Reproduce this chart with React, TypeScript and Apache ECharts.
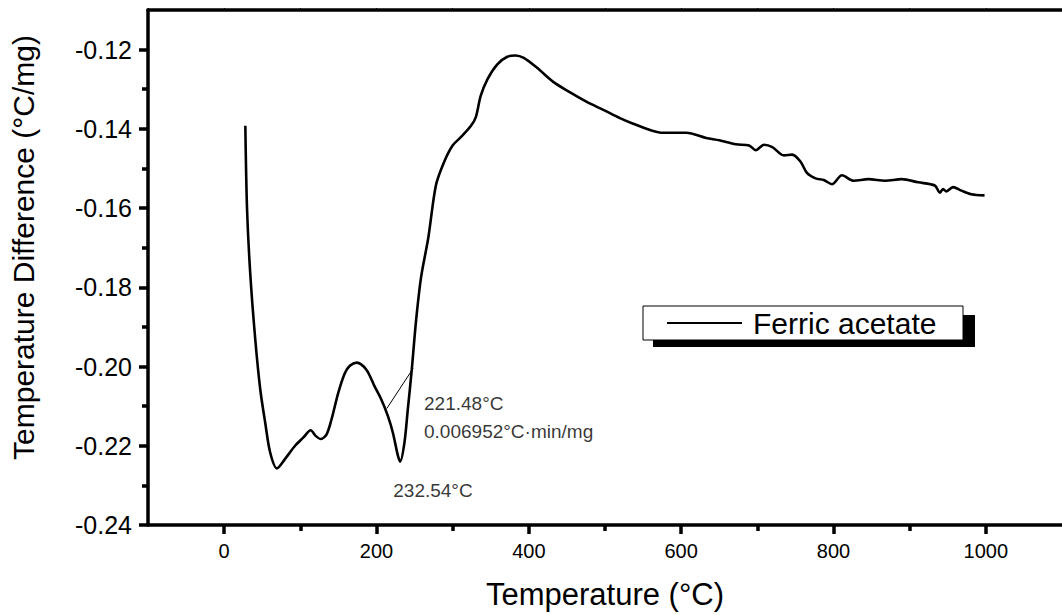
import React, { useEffect, useRef } from "react";
import * as echarts from "echarts";

// Temperature (°C)
const temps: number[] = [
  27.8, 30.0, 34.3, 40.9, 47.4, 53.9, 60.4, 69.2, 80.0, 93.1,
  104.0, 113.6, 120.1, 127.0, 134.5, 141.0, 149.7, 158.4, 165.0, 174.0,
  186.7, 197.5, 206.3, 215.0, 221.5, 228.1, 231.1, 236.7, 241.1, 246.3,
  252.0, 258.5, 268.0, 278.1, 288.9, 299.9, 310.7, 323.8, 330.3, 336.8,
  345.6, 358.6, 371.7, 382.5, 393.3, 410.8, 432.5, 454.3, 476.1, 497.8,
  519.6, 537.0, 561.0, 576.1, 606.7, 632.8, 650.1, 671.9, 689.3, 698.0,
  708.9, 719.7, 735.0, 745.8, 756.8, 765.4, 776.4, 787.2, 798.0, 811.1,
  826.4, 846.0, 867.8, 889.4, 911.2, 933.0, 939.6, 943.9, 948.2, 956.9,
  967.8, 980.8, 998.3,
];
// Temperature difference (°C/mg)
const diffs: number[] = [
  -0.1392, -0.160, -0.1767, -0.1933, -0.2058, -0.2142, -0.2217, -0.2257, -0.2233, -0.220,
  -0.2179, -0.2161, -0.2175, -0.2183, -0.2171, -0.2133, -0.2067, -0.2017, -0.1998, -0.1990,
  -0.2008, -0.205, -0.2083, -0.2125, -0.2167, -0.2225, -0.224, -0.2192, -0.2108, -0.2008,
  -0.1883, -0.1775, -0.1675, -0.1542, -0.1483, -0.1442, -0.1421, -0.1393, -0.1371, -0.1317,
  -0.1275, -0.1237, -0.1218, -0.1215, -0.1221, -0.1246, -0.1282, -0.1308, -0.1332, -0.1352,
  -0.1373, -0.1387, -0.1404, -0.141, -0.141, -0.1423, -0.1429, -0.1439, -0.1442, -0.1454,
  -0.144, -0.1446, -0.1467, -0.1465, -0.1483, -0.1512, -0.1525, -0.1529, -0.154, -0.1517,
  -0.1531, -0.1527, -0.1531, -0.1527, -0.1535, -0.1543, -0.1561, -0.1552, -0.1558, -0.1547,
  -0.1556, -0.1565, -0.1568,
];

// Onset tangent line
const tangentT: number[] = [213.5, 248.0];
const tangentV: number[] = [-0.2106, -0.2005];

// Annotations
const annotTexts: string[] = ["221.48°C", "0.006952°C·min/mg", "232.54°C"];
const annotT: number[] = [262.4, 262.4, 222.0];
const annotV: number[] = [-0.2093, -0.2165, -0.2313];

const xMajorTicks: number[] = [0, 200, 400, 600, 800, 1000];
const xMinorTicks: number[] = [100, 300, 500, 700, 900];
const yMajorTicks: number[] = [-0.24, -0.22, -0.2, -0.18, -0.16, -0.14, -0.12];
const yMinorTicks: number[] = [-0.23, -0.21, -0.19, -0.17, -0.15, -0.13];

const seriesName = "Ferric acetate";
const FONT = "'Liberation Sans', Arial, Helvetica, sans-serif";

export default function App() {
  const ref = useRef<HTMLDivElement>(null);
  useEffect(() => {
    if (!ref.current) return;
    const chart = echarts.init(ref.current, undefined, { renderer: "svg" });
    const axisLine = { show: true, onZero: false, lineStyle: { color: "#000", width: 3.5 } };
    const noLine = { show: false, onZero: false };
    const common = { type: "value" as const, min: -100, max: 1100, splitLine: { show: false } };
    const yCommon = { type: "value" as const, min: -0.24, max: -0.11, splitLine: { show: false } };
    chart.setOption({
      animation: false,
      backgroundColor: "#fff",
      textStyle: { fontFamily: FONT, color: "#000" },
      grid: { left: 145, right: -3, top: 10, bottom: 85, containLabel: false },
      legend: {
        data: [{ name: seriesName, icon: "rect" }],
        left: 643,
        top: 306,
        orient: "horizontal",
        backgroundColor: "#fff",
        borderColor: "#000",
        borderWidth: 1,
        borderRadius: 0,
        padding: [2, 10, 2, 24],
        itemWidth: 75,
        itemHeight: 2,
        z: 10,
        selectedMode: false,
        itemStyle: { color: "#000", borderWidth: 0 },
        textStyle: {
          fontFamily: FONT,
          fontSize: 30,
          color: "#000",
          width: 200,
          lineHeight: 29,
          padding: [0, 0, 0, 6],
        },
      },
      graphic: [
        {
          type: "rect",
          z: 1,
          shape: { x: 653, y: 315, width: 322, height: 32 },
          style: { fill: "#000" },
        },
      ],
      xAxis: [
        {
          ...common,
          position: "bottom",
          name: "Temperature (°C)",
          nameLocation: "middle",
          nameGap: 54,
          nameTextStyle: { fontFamily: FONT, fontSize: 31, color: "#000" },
          axisLine,
          axisTick: {
            show: true,
            customValues: xMajorTicks,
            length: 9,
            lineStyle: { color: "#000", width: 3.5 },
          },
          axisLabel: {
            show: true,
            customValues: xMajorTicks,
            fontFamily: FONT,
            fontSize: 20,
            color: "#000",
            margin: 16,
            formatter: (v: number) => String(v),
          },
        },
        {
          ...common,
          position: "bottom",
          axisLine: noLine,
          axisTick: {
            show: true,
            customValues: xMinorTicks,
            length: 6,
            lineStyle: { color: "#000", width: 3.5 },
          },
          axisLabel: { show: false },
        },
        {
          ...common,
          position: "top",
          interval: 100,
          axisLine,
          axisTick: { show: true, length: 2, lineStyle: { color: "#000", width: 1 } },
          axisLabel: { show: false },
        },
      ],
      yAxis: [
        {
          ...yCommon,
          position: "left",
          name: "Temperature Difference (°C/mg)",
          nameLocation: "middle",
          nameGap: 110,
          nameTextStyle: { fontFamily: FONT, fontSize: 30, color: "#000", padding: [0, 0, 0, 40] },
          axisLine,
          axisTick: {
            show: true,
            customValues: yMajorTicks,
            length: 9,
            lineStyle: { color: "#000", width: 3.5 },
          },
          axisLabel: {
            show: true,
            customValues: yMajorTicks,
            fontFamily: FONT,
            fontSize: 25,
            color: "#000",
            margin: 16,
            formatter: (v: number) => v.toFixed(2),
          },
        },
        {
          ...yCommon,
          position: "left",
          axisLine: noLine,
          axisTick: {
            show: true,
            customValues: yMinorTicks,
            length: 6,
            lineStyle: { color: "#000", width: 3.5 },
          },
          axisLabel: { show: false },
        },
      ],
      series: [
        {
          name: seriesName,
          type: "line",
          xAxisIndex: 0,
          yAxisIndex: 0,
          data: temps.map((t, i) => [t, diffs[i]]),
          symbol: "none",
          smooth: 0.3,
          lineStyle: { color: "#000", width: 2.6 },
          itemStyle: { color: "#000" },
          z: 3,
        },
        {
          name: "tangent",
          type: "line",
          xAxisIndex: 0,
          yAxisIndex: 0,
          data: tangentT.map((t, i) => [t, tangentV[i]]),
          symbol: "none",
          silent: true,
          lineStyle: { color: "#000", width: 1 },
          z: 2,
        },
        {
          name: "annotations",
          type: "scatter",
          xAxisIndex: 0,
          yAxisIndex: 0,
          symbolSize: 0,
          silent: true,
          data: annotTexts.map((s, i) => ({ name: s, value: [annotT[i], annotV[i]] })),
          label: {
            show: true,
            position: "right",
            distance: 0,
            formatter: (p: any) => p.name,
            fontFamily: FONT,
            fontSize: 19,
            color: "#000",
          },
        },
      ],
    });
    return () => chart.dispose();
  }, []);
  return (
    <div
      ref={ref}
      style={{ position: "fixed", left: 0, top: 0, width: 1062, height: 615, background: "#fff" }}
    />
  );
}
